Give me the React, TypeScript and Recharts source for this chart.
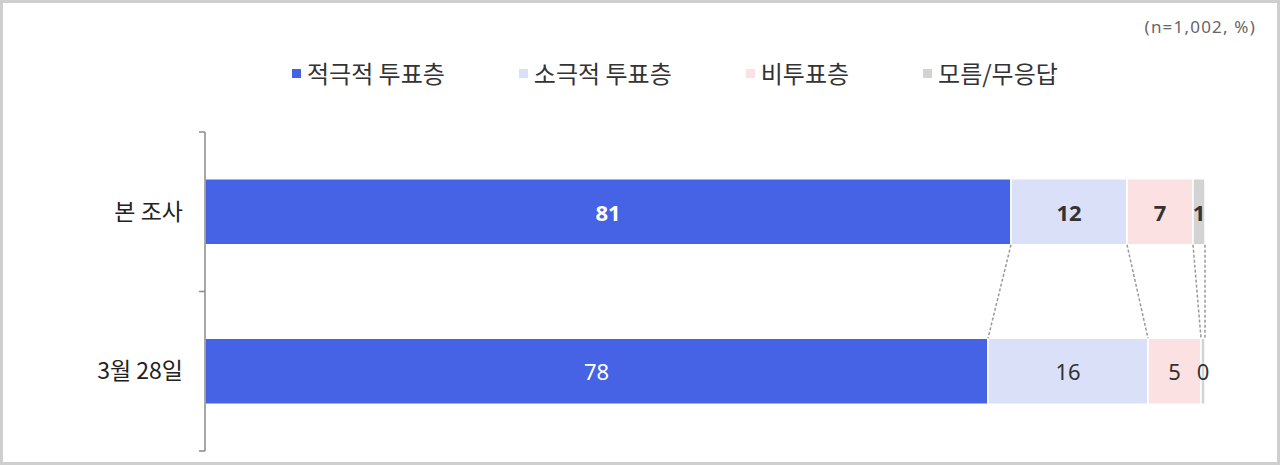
import React from 'react';
import { BarChart, Bar, XAxis, YAxis, LabelList, ReferenceLine, Legend } from 'recharts';

const categories = ['본 조사', '3월 28일'];
const seriesNames = ['적극적 투표층', '소극적 투표층', '비투표층', '모름/무응답'];
const activeVoters = [80.6, 78.3];
const passiveVoters = [11.6, 16.0];
const nonVoters = [6.6, 5.3];
const unknownAnswers = [1.2, 0.4];
const seriesColors = ['#4563E4', '#DAE0F8', '#FCE1E2', '#D3D3D3'];
const sampleNote = '(n=1,002, %)';

const seriesKeys = ['active', 'passive', 'non', 'unknown'];
const seriesValues = [activeVoters, passiveVoters, nonVoters, unknownAnswers];

const data = categories.map((name, i) => ({
  name,
  active: activeVoters[i],
  passive: passiveVoters[i],
  non: nonVoters[i],
  unknown: unknownAnswers[i],
}));

const GAP = 0.293;
const FONT = "'Noto Sans', 'Noto Sans CJK KR', sans-serif";
const KFONT = "'Noto Sans CJK KR', 'Noto Sans', sans-serif";

const cumulative = (row: number) => {
  let s = 0;
  return seriesValues.map((arr) => {
    s += arr[row];
    return s;
  });
};
const topCum = cumulative(0);
const botCum = cumulative(1);

// helper axis spans [0,1] over the plot height, top to bottom; each band is 0.5
const BAND = 1 / categories.length;
const topBarBottom = BAND - BAND * GAP;
const botBarTop = BAND + BAND * GAP;
const bandEdges = categories.map((_, i) => i * BAND).concat([1]);

const makeLabel = (seriesIdx: number) => (props: any) => {
  const { x, y, width, height, value, index } = props;
  const bold = index === 0;
  const fill = seriesIdx === 0 ? '#ffffff' : '#333333';
  return (
    <text
      x={x + width / 2}
      y={y + height / 2}
      textAnchor="middle"
      dominantBaseline="central"
      fill={fill}
      fontFamily={FONT}
      fontSize={22}
      fontWeight={bold ? 700 : 400}
    >
      {Math.round(Number(value))}
    </text>
  );
};

const renderLegend = () => (
  <div style={{ display: 'flex', alignItems: 'center', gap: 74, fontFamily: KFONT }}>
    {seriesNames.map((n, i) => (
      <div key={n} style={{ display: 'flex', alignItems: 'center' }}>
        <span
          style={{ display: 'inline-block', width: 9, height: 9, background: seriesColors[i], marginRight: 6 }}
        />
        <span style={{ fontSize: 24, color: '#333', lineHeight: '34px' }}>{n}</span>
      </div>
    ))}
  </div>
);

export default function App() {
  return (
    <div
      style={{
        position: 'absolute',
        left: 0,
        top: 0,
        width: 1280,
        height: 465,
        border: '3px solid #cfcfcf',
        boxSizing: 'border-box',
        background: '#fff',
        overflow: 'hidden',
      }}
    >
      <div
        style={{
          position: 'absolute',
          right: 21,
          top: 12,
          fontFamily: FONT,
          fontSize: 17,
          letterSpacing: 1.2,
          color: '#666',
        }}
      >
        {sampleNote}
      </div>
      <div style={{ position: 'absolute', left: -3, top: -3 }}>
        <BarChart
          width={1280}
          height={465}
          data={data}
          layout="vertical"
          margin={{ top: 132, right: 75, bottom: 14, left: 15 }}
          barCategoryGap={`${GAP * 100}%`}
        >
          <XAxis type="number" domain={[0, 100]} hide />
          <YAxis
            yAxisId="cat"
            type="category"
            dataKey="name"
            width={190}
            axisLine={{ stroke: '#8a8a8a', strokeWidth: 1.5 }}
            tickLine={false}
            tickSize={0}
            tickMargin={22}
            tick={{ fill: '#222', fontSize: 23, fontFamily: KFONT }}
          />
          <YAxis yAxisId="num" type="number" domain={[0, 1]} allowDataOverflow hide />
          <Legend
            layout="horizontal"
            verticalAlign="middle"
            align="center"
            content={renderLegend}
            wrapperStyle={{ top: 56, left: 292, width: 'auto' }}
          />
          {seriesKeys.map((k, i) => (
            <Bar
              key={k}
              yAxisId="cat"
              dataKey={k}
              name={seriesNames[i]}
              stackId="s"
              fill={seriesColors[i]}
              stroke="#ffffff"
              strokeWidth={1.5}
              isAnimationActive={false}
            >
              <LabelList dataKey={k} content={makeLabel(i)} />
            </Bar>
          ))}
          {bandEdges.map((t) => (
            <ReferenceLine
              key={`tick-${t}`}
              yAxisId="num"
              segment={[
                { x: -0.6, y: t },
                { x: 0, y: t },
              ]}
              stroke="#8a8a8a"
              strokeWidth={1.5}
              ifOverflow="visible"
            />
          ))}
          {topCum.map((c, i) => (
            <ReferenceLine
              key={`conn-${i}`}
              yAxisId="num"
              segment={[
                { x: c, y: topBarBottom },
                { x: botCum[i], y: botBarTop },
              ]}
              stroke="#999999"
              strokeWidth={1.5}
              strokeDasharray="3 2"
              ifOverflow="visible"
            />
          ))}
        </BarChart>
      </div>
    </div>
  );
}
